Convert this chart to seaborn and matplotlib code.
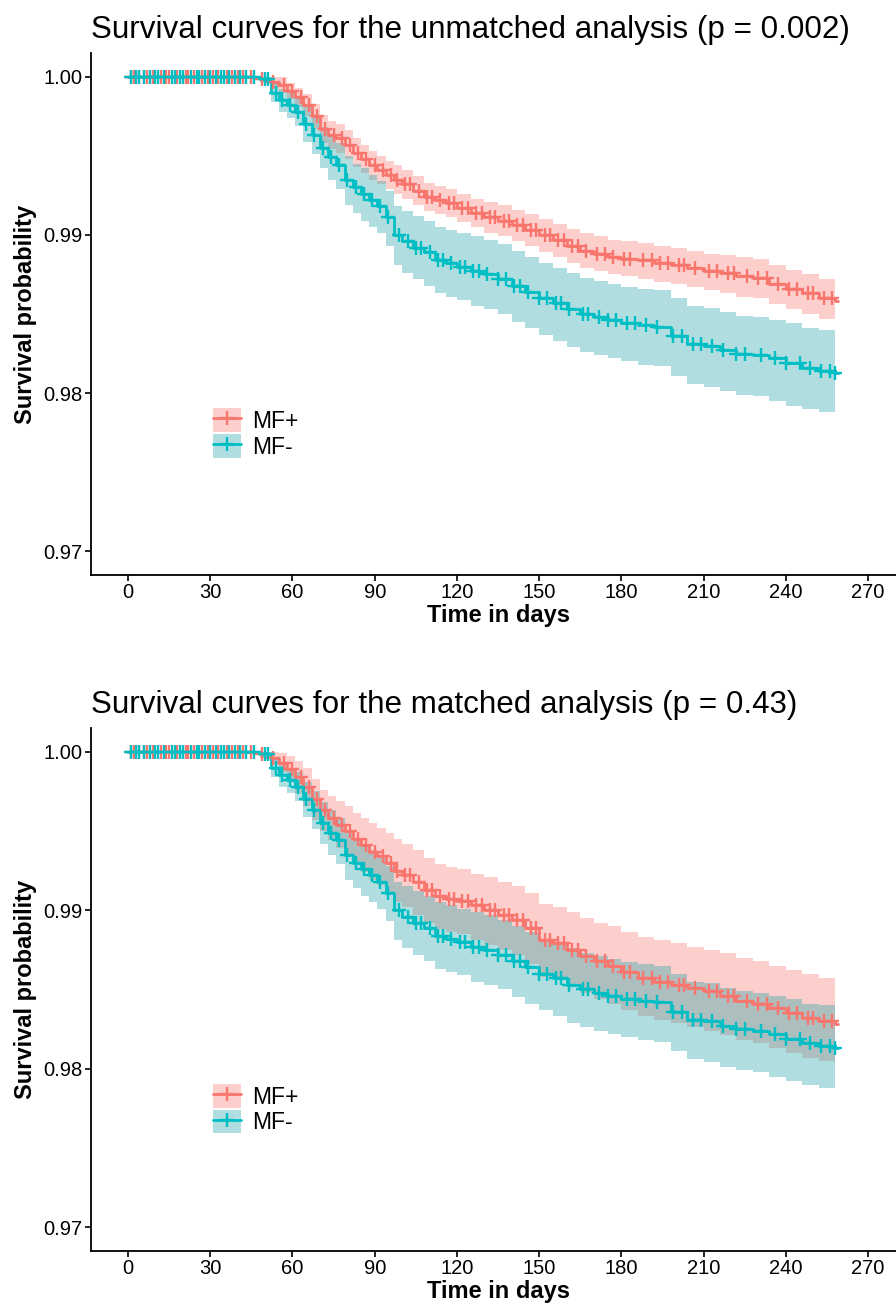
import numpy as np
import pandas as pd
import matplotlib.pyplot as plt
import seaborn as sns
from matplotlib.patches import Patch
from matplotlib.lines import Line2D

# --- data ---
days = [0, 44, 48, 52, 55, 58, 61, 64, 67, 70, 73, 76, 79, 82, 85, 88, 91, 94, 97, 100,
        104, 108, 112, 116, 120, 125, 130, 135, 140, 145, 150, 155, 160, 165, 170, 175,
        180, 186, 192, 198, 204, 210, 216, 222, 228, 234, 240, 246, 252, 258]

# MF+ unmatched
mfp_unm = [1, 1, 0.99985, 0.99965, 0.99945, 0.9991, 0.9987, 0.9982, 0.9975, 0.9967,
           0.9963, 0.9961, 0.9957, 0.9952, 0.9948, 0.9944, 0.9941, 0.9938, 0.9935, 0.9932,
           0.9928, 0.9924, 0.9922, 0.9920, 0.9917, 0.9914, 0.9911, 0.9909, 0.9906, 0.9903,
           0.9900, 0.9897, 0.9893, 0.9890, 0.9888, 0.9886, 0.9885, 0.9884, 0.9882, 0.9881,
           0.9879, 0.9877, 0.9876, 0.9874, 0.9873, 0.9869, 0.9866, 0.9863, 0.9860, 0.9858]
mfp_unm_hi = [1, 1, 1, 1, 0.99995, 0.9996, 0.9993, 0.9989, 0.9983, 0.9976,
              0.9972, 0.9970, 0.9966, 0.9961, 0.9957, 0.9953, 0.9950, 0.9947, 0.9944, 0.9941,
              0.9937, 0.9933, 0.9931, 0.9929, 0.9926, 0.9923, 0.9921, 0.9919, 0.9916, 0.9913,
              0.9910, 0.9907, 0.9904, 0.9901, 0.9899, 0.9897, 0.9896, 0.9895, 0.9893, 0.9892,
              0.9890, 0.9888, 0.9887, 0.9886, 0.9885, 0.9881, 0.9878, 0.9875, 0.9872, 0.9871]
mfp_unm_lo = [1, 1, 0.99965, 0.9993, 0.9990, 0.9986, 0.9981, 0.9975, 0.9967, 0.9958,
              0.9954, 0.9952, 0.9948, 0.9943, 0.9939, 0.9935, 0.9932, 0.9929, 0.9926, 0.9923,
              0.9919, 0.9915, 0.9913, 0.9911, 0.9908, 0.9905, 0.9901, 0.9899, 0.9896, 0.9893,
              0.9889, 0.9886, 0.9882, 0.9879, 0.9877, 0.9875, 0.9874, 0.9872, 0.9870, 0.9869,
              0.9867, 0.9865, 0.9863, 0.9861, 0.9860, 0.9856, 0.9853, 0.9850, 0.9847, 0.9844]

# MF+ matched
mfp_mat = [1, 1, 0.99985, 0.9996, 0.9993, 0.9989, 0.9984, 0.9978, 0.9970, 0.9963,
           0.9958, 0.9954, 0.9950, 0.9945, 0.9941, 0.9937, 0.9934, 0.9930, 0.9925, 0.9922,
           0.9918, 0.9913, 0.9909, 0.9907, 0.9906, 0.9903, 0.9900, 0.9897, 0.9894, 0.9889,
           0.9881, 0.9879, 0.9875, 0.9871, 0.9868, 0.9865, 0.9861, 0.9857, 0.9855, 0.9853,
           0.9851, 0.9849, 0.9846, 0.9843, 0.9841, 0.9838, 0.9835, 0.9832, 0.9830, 0.9828]
mfp_mat_hi = [1, 1, 1, 1, 0.9999, 0.9997, 0.9994, 0.9990, 0.9983, 0.9976,
              0.9972, 0.9969, 0.9966, 0.9961, 0.9958, 0.9955, 0.9952, 0.9949, 0.9945, 0.9942,
              0.9938, 0.9933, 0.9929, 0.9927, 0.9926, 0.9923, 0.9921, 0.9918, 0.9915, 0.9911,
              0.9904, 0.9902, 0.9899, 0.9895, 0.9892, 0.9890, 0.9886, 0.9883, 0.9881, 0.9879,
              0.9877, 0.9875, 0.9873, 0.9870, 0.9868, 0.9865, 0.9862, 0.9860, 0.9857, 0.9854]
mfp_mat_lo = [1, 1, 0.9996, 0.9992, 0.9987, 0.9981, 0.9974, 0.9966, 0.9957, 0.9950,
              0.9944, 0.9939, 0.9934, 0.9929, 0.9924, 0.9919, 0.9916, 0.9911, 0.9905, 0.9902,
              0.9897, 0.9892, 0.9888, 0.9886, 0.9885, 0.9881, 0.9878, 0.9875, 0.9872, 0.9866,
              0.9858, 0.9856, 0.9852, 0.9848, 0.9844, 0.9841, 0.9837, 0.9833, 0.9831, 0.9829,
              0.9826, 0.9824, 0.9821, 0.9818, 0.9816, 0.9813, 0.9810, 0.9807, 0.9805, 0.9803]

# MF- (same group in both analyses)
mfn = [1, 1, 0.99985, 0.9990, 0.9985, 0.9982, 0.9978, 0.9970, 0.9963, 0.9955,
       0.9949, 0.9944, 0.9935, 0.9930, 0.9926, 0.9922, 0.9918, 0.9911, 0.9900, 0.9896,
       0.9892, 0.9889, 0.9884, 0.9882, 0.9880, 0.9877, 0.9875, 0.9872, 0.9868, 0.9864,
       0.9860, 0.9857, 0.9853, 0.9850, 0.9848, 0.9846, 0.9844, 0.9843, 0.9842, 0.9836,
       0.9831, 0.9830, 0.9827, 0.9825, 0.9824, 0.9822, 0.9819, 0.9816, 0.9814, 0.9813]
mfn_hi = [1, 1, 1, 0.9996, 0.9992, 0.9990, 0.9987, 0.9981, 0.9975, 0.9968,
          0.9963, 0.9958, 0.9950, 0.9945, 0.9942, 0.9938, 0.9934, 0.9928, 0.9918, 0.9915,
          0.9912, 0.9909, 0.9905, 0.9903, 0.9901, 0.9899, 0.9897, 0.9894, 0.9890, 0.9886,
          0.9882, 0.9879, 0.9876, 0.9873, 0.9871, 0.9869, 0.9867, 0.9866, 0.9865, 0.9860,
          0.9855, 0.9854, 0.9851, 0.9849, 0.9848, 0.9846, 0.9844, 0.9841, 0.9840, 0.9840]
mfn_lo = [1, 1, 0.9996, 0.9984, 0.9978, 0.9974, 0.9969, 0.9959, 0.9951, 0.9942,
          0.9935, 0.9929, 0.9919, 0.9914, 0.9909, 0.9905, 0.9901, 0.9893, 0.9881, 0.9876,
          0.9872, 0.9868, 0.9863, 0.9861, 0.9859, 0.9855, 0.9853, 0.9850, 0.9845, 0.9841,
          0.9837, 0.9833, 0.9829, 0.9826, 0.9824, 0.9822, 0.9820, 0.9818, 0.9817, 0.9811,
          0.9806, 0.9804, 0.9801, 0.9799, 0.9798, 0.9795, 0.9792, 0.9790, 0.9788, 0.9787]

# censoring times (the '+' marks)
cens_mfp = [1, 2, 4, 6, 7, 9, 12, 14, 15, 18, 21, 22, 24, 27, 29, 31, 33, 36, 38, 40, 42,
            45, 49, 53, 57, 60, 63, 66, 69, 72, 75, 78, 81, 84, 87, 90, 93, 96, 98, 101,
            103, 106, 109, 111, 114, 117, 119, 122, 124, 127, 129, 132, 134, 137, 139, 142,
            144, 147, 149, 152, 154, 157, 159, 162, 164, 167, 171, 174, 177, 181, 183, 188,
            191, 194, 197, 201, 203, 207, 212, 215, 219, 221, 226, 230, 233, 237, 241, 244,
            248, 250, 254, 257]
cens_mfn = [1, 3, 4, 6, 8, 10, 11, 13, 16, 17, 19, 20, 23, 25, 26, 28, 30, 32, 34, 35, 37,
            39, 41, 43, 46, 50, 51, 54, 56, 59, 62, 65, 68, 71, 74, 77, 80, 83, 86, 89,
            92, 95, 99, 102, 105, 107, 110, 113, 115, 118, 121, 123, 126, 128, 131, 135,
            138, 141, 143, 146, 150, 153, 156, 158, 161, 166, 168, 172, 175, 178, 182, 185,
            189, 193, 199, 202, 206, 209, 213, 217, 222, 225, 231, 236, 240, 245, 249, 253,
            256, 258]

groups = ['MF+', 'MF-']
colors = ['#F8766D', '#00BFC4']
band_colors = ['#F8766D', '#1A9FA8']
y_ticks = [0.97, 0.98, 0.99, 1.00]
x_ticks = [0, 30, 60, 90, 120, 150, 180, 210, 240, 270]

sns.set_style('ticks')
plt.rcParams['font.family'] = ['Liberation Sans', 'DejaVu Sans']
plt.rcParams['text.color'] = 'black'
plt.rcParams['axes.labelcolor'] = 'black'


def step_at(times, surv, t):
    idx = np.searchsorted(times, t, side='right') - 1
    return np.asarray(surv)[idx]


def draw_panel(ax, title, curves):
    for (surv, lo, hi, cens), bc in zip(curves, band_colors):
        ax.fill_between(days, lo, hi, step='post', color=bc, alpha=0.35, lw=0)
    for (surv, lo, hi, cens), col in zip(curves, colors):
        sns.lineplot(x=days + [259], y=surv + [surv[-1]], drawstyle='steps-post',
                     estimator=None, color=col, lw=2.0, ax=ax)
        df = pd.DataFrame({'t': cens, 's': step_at(days, surv, cens)})
        sns.scatterplot(data=df, x='t', y='s', marker='+', s=90, color=col,
                        linewidth=1.7, ax=ax, zorder=3)
    ax.set_xlim(-13.5, 283.5)
    ax.set_ylim(0.9685, 1.0015)
    ax.set_xticks(x_ticks)
    ax.set_yticks(y_ticks)
    ax.set_yticklabels([f'{v:.2f}' for v in y_ticks])
    ax.tick_params(labelsize=14.5, colors='black', length=4, width=1.2, pad=2)
    for s in ['left', 'bottom']:
        ax.spines[s].set_color('black')
        ax.spines[s].set_linewidth(1.3)
    sns.despine(ax=ax)
    ax.set_xlabel('Time in days', fontsize=17, fontweight='bold', labelpad=1)
    ax.set_ylabel('Survival probability', fontsize=17, fontweight='bold', labelpad=5)
    ax.set_title(title, loc='left', fontsize=22.6, pad=11, color='black')

    handles = [(Patch(facecolor=bc, alpha=0.35, lw=0),
                Line2D([], [], color=c, lw=2.0, marker='+', markersize=10, mew=1.7))
               for c, bc in zip(colors, band_colors)]
    ax.legend(handles, groups, loc='center left', bbox_to_anchor=(0.125, 0.271),
              frameon=False, fontsize=16.5, handlelength=1.2, handleheight=1.2,
              labelspacing=0.06, handletextpad=0.5, borderpad=0.4)


fig = plt.figure(figsize=(8.96, 13.08), dpi=100)
ax1 = fig.add_axes([0.1016, 0.5604, 0.9085, 0.3991])
ax2 = fig.add_axes([0.1016, 0.0436, 0.9085, 0.3999])

draw_panel(ax1, 'Survival curves for the unmatched analysis (p = 0.002)',
           [(mfp_unm, mfp_unm_lo, mfp_unm_hi, cens_mfp), (mfn, mfn_lo, mfn_hi, cens_mfn)])
draw_panel(ax2, 'Survival curves for the matched analysis (p = 0.43)',
           [(mfp_mat, mfp_mat_lo, mfp_mat_hi, cens_mfp), (mfn, mfn_lo, mfn_hi, cens_mfn)])

fig.savefig('out.png', dpi=100)
